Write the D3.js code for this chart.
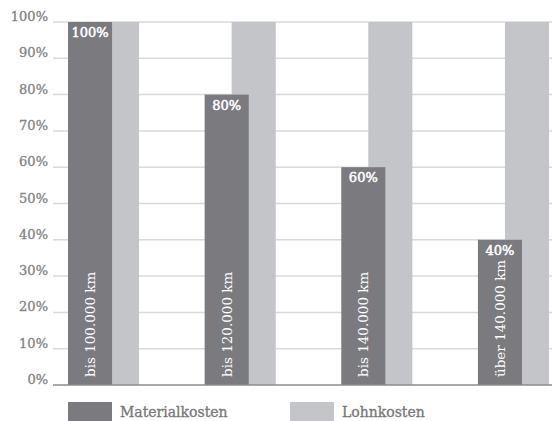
<!DOCTYPE html>
<html>
<head>
<meta charset="utf-8">
<script src="https://cdn.jsdelivr.net/npm/d3@7"></script>
<style>
  body { margin: 0; background: #fff; }
  svg text { font-family: "DejaVu Serif", serif; }
</style>
</head>
<body>
<svg id="chart" width="552" height="421"></svg>
<script>
// chart data
var categories = ["bis 100.000 km", "bis 120.000 km", "bis 140.000 km", "über 140.000 km"];
var materialkosten = [100, 80, 60, 40];
var lohnkosten = [100, 100, 100, 100];
var yTicks = [0, 10, 20, 30, 40, 50, 60, 70, 80, 90, 100];
var seriesNames = ["Materialkosten", "Lohnkosten"];

var DARK = "#7b7b7f";
var LIGHT = "#c4c5c9";

var svg = d3.select("#chart");

// plot area (avoid "top", it is window.top)
var plotLeft = 53, plotRight = 552, plotTop = 22, plotBottom = 385;

var x = d3.scaleBand().domain(categories).range([68, 549]).paddingInner(0.48).paddingOuter(0);
var y = d3.scaleLinear().domain([0, 100]).range([plotBottom, plotTop]);

var bw = x.bandwidth();
var barW = bw * 0.62;
var lightOff = bw * 0.38;

// grid
svg.append("g").selectAll("line").data(yTicks.filter(function(d) { return d > 0; })).enter()
  .append("line")
  .attr("x1", plotLeft).attr("x2", plotRight)
  .attr("y1", function(d) { return y(d); })
  .attr("y2", function(d) { return y(d); })
  .attr("stroke", "#dadada")
  .attr("stroke-width", 1.5);

// tick labels
svg.append("g").selectAll("text").data(yTicks).enter()
  .append("text")
  .attr("x", 48)
  .attr("y", function(d) { return y(d) - 1; })
  .attr("text-anchor", "end")
  .attr("font-size", 13)
  .attr("fill", "#858585")
  .attr("stroke", "#858585")
  .attr("stroke-width", 0.35)
  .text(function(d) { return d + "%"; });

// Lohnkosten (behind)
svg.append("g").selectAll("rect").data(lohnkosten).enter()
  .append("rect")
  .attr("x", function(d, i) { return x(categories[i]) + lightOff; })
  .attr("y", function(d) { return y(d); })
  .attr("width", barW)
  .attr("height", function(d) { return plotBottom - y(d); })
  .attr("fill", LIGHT);

// Materialkosten
svg.append("g").selectAll("rect").data(materialkosten).enter()
  .append("rect")
  .attr("x", function(d, i) { return x(categories[i]); })
  .attr("y", function(d) { return y(d); })
  .attr("width", barW)
  .attr("height", function(d) { return plotBottom - y(d); })
  .attr("fill", DARK);

// value labels
svg.append("g").selectAll("text").data(materialkosten).enter()
  .append("text")
  .attr("x", function(d, i) { return x(categories[i]) + barW / 2; })
  .attr("y", function(d) { return y(d) + 15; })
  .attr("text-anchor", "middle")
  .attr("font-size", 13)
  .attr("fill", "#fff")
  .attr("stroke", "#fff")
  .attr("stroke-width", 0.5)
  .text(function(d) { return d + "%"; });

// rotated category labels
svg.append("g").selectAll("text").data(categories).enter()
  .append("text")
  .attr("transform", function(d) {
    return "translate(" + (x(d) + barW / 2 + 5) + "," + (plotBottom - 8) + ") rotate(-90)";
  })
  .attr("font-size", 13.5)
  .attr("fill", "#fff")
  .text(function(d) { return d; });

// baseline
svg.append("line")
  .attr("x1", plotLeft).attr("x2", plotRight)
  .attr("y1", plotBottom).attr("y2", plotBottom)
  .attr("stroke", "#8c8c8c")
  .attr("stroke-width", 1.5);

// legend
var legend = svg.append("g").selectAll("g").data(seriesNames).enter()
  .append("g")
  .attr("transform", function(d, i) { return "translate(" + [68, 290][i] + ",402)"; });

legend.append("rect")
  .attr("width", 44).attr("height", 19)
  .attr("fill", function(d, i) { return i === 0 ? DARK : LIGHT; });

legend.append("text")
  .attr("x", 52).attr("y", 15)
  .attr("font-size", 14)
  .attr("fill", "#7a7a7a")
  .attr("stroke", "#7a7a7a")
  .attr("stroke-width", 0.35)
  .text(function(d) { return d; });
</script>
</body>
</html>
